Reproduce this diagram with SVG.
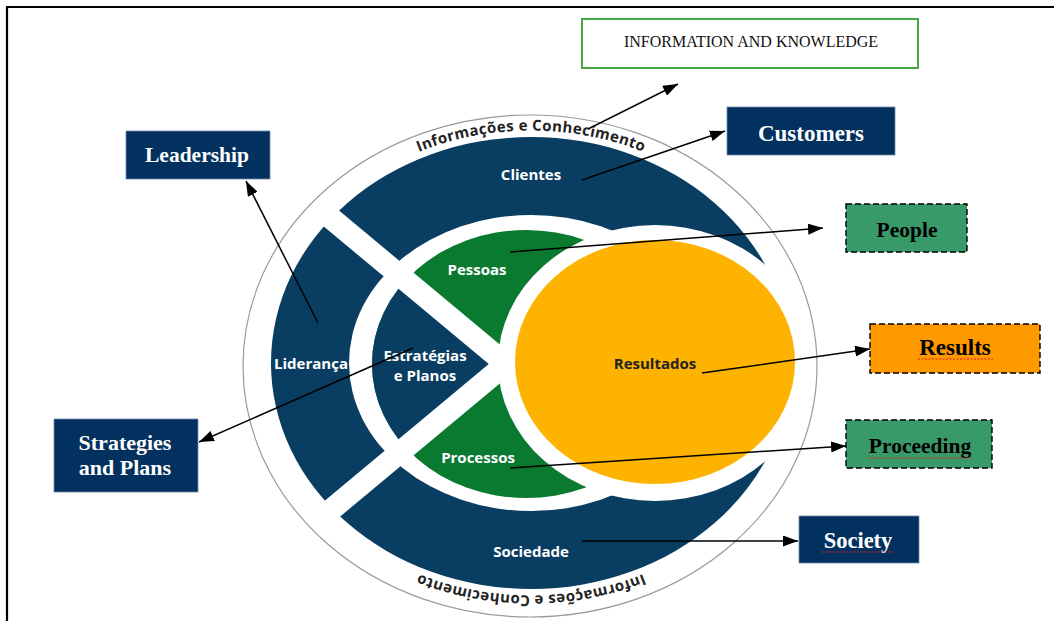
<svg xmlns="http://www.w3.org/2000/svg" width="1054" height="621" viewBox="0 0 1054 621">
<defs>
<style>
.navy{fill:#02315f;stroke:#6f86a6;stroke-width:0.8}
.btxt{font-family:"Liberation Serif",serif;font-weight:bold;fill:#fff;text-anchor:middle}
.dtxt{font-family:"Liberation Serif",serif;font-weight:bold;fill:#000;text-anchor:middle}
.dash{stroke:#000;stroke-width:1.4;stroke-dasharray:6 3}
.seg{font-family:"Open Sans","DejaVu Sans",sans-serif;font-weight:bold;font-size:15px;fill:#fff;text-anchor:middle}
.arc{font-family:"Open Sans","DejaVu Sans",sans-serif;font-weight:bold;font-size:15px;letter-spacing:0.4px;fill:#222}
.conn{stroke:#000;stroke-width:1.5;fill:none;marker-end:url(#ah)}
.squig{stroke:#e02020;stroke-width:1.2;stroke-dasharray:2 1.5;fill:none}
</style>
<marker id="ah" markerWidth="15" markerHeight="11" refX="15" refY="5.5" orient="auto" markerUnits="userSpaceOnUse">
<path d="M0,0 L15,5.5 L0,11 Z" fill="#000"/>
</marker>
<clipPath id="disc"><ellipse cx="526" cy="364" rx="154" ry="134"/></clipPath>
<path id="topArc" d="M 279,283 A 268 231 0 0 1 783,283"/>
<path id="botArc" d="M 783,443 A 268 231 0 0 1 279,443"/>
</defs>
<rect width="1054" height="621" fill="#fff"/>
<path d="M7,621 L7,7 L1054,7" fill="none" stroke="#000" stroke-width="2.2"/>

<g id="model">
  <ellipse cx="531" cy="363" rx="260" ry="226" fill="#0a3d62"/>
  <ellipse cx="531" cy="363" rx="182" ry="148" fill="#fff"/>
  <ellipse cx="526" cy="364" rx="154" ry="134" fill="#0a7a30"/>
  <polygon points="489,364 280,170 280,558" fill="#0a3d62" clip-path="url(#disc)"/>
  <line x1="506" y1="364" x2="320" y2="209" stroke="#fff" stroke-width="22"/>
  <line x1="506" y1="364" x2="320" y2="519" stroke="#fff" stroke-width="22"/>
  <ellipse cx="655" cy="363" rx="157" ry="138" fill="#fff"/>
  <ellipse cx="655" cy="362" rx="140" ry="122" fill="#fdb300"/>
  <ellipse cx="530" cy="366" rx="287" ry="251" fill="none" stroke="#9a9a9a" stroke-width="1.2"/>
  <text class="arc"><textPath href="#topArc" startOffset="50%" text-anchor="middle">Informações e Conhecimento</textPath></text>
  <text class="arc"><textPath href="#botArc" startOffset="50%" text-anchor="middle">Informações e Conhecimento</textPath></text>
  <g id="seg-clientes"><text class="seg" x="531" y="180">Clientes</text></g>
  <g id="seg-lideranca"><text class="seg" x="311" y="369">Liderança</text></g>
  <g id="seg-estrategias"><text class="seg" x="425" y="361">Estratégias</text><text class="seg" x="425" y="381">e Planos</text></g>
  <g id="seg-pessoas"><text class="seg" x="477" y="275">Pessoas</text></g>
  <g id="seg-processos"><text class="seg" x="478" y="463">Processos</text></g>
  <g id="seg-sociedade"><text class="seg" x="531" y="557">Sociedade</text></g>
  <g id="seg-resultados"><text class="seg" x="655" y="369" style="fill:#222">Resultados</text></g>
</g>

<g id="node-info">
  <rect x="582" y="19" width="336" height="49" fill="#fff" stroke="#45a845" stroke-width="2"/>
  <text x="751" y="47" font-family="'Liberation Serif',serif" font-size="16" text-anchor="middle" fill="#111">INFORMATION AND KNOWLEDGE</text>
</g>
<g id="node-customers">
  <rect class="navy" x="727" y="107" width="168" height="48"/>
  <text class="btxt" x="811" y="141" font-size="23">Customers</text>
</g>
<g id="node-leadership">
  <rect class="navy" x="126" y="131" width="144" height="48"/>
  <text class="btxt" x="197" y="162" font-size="21.5">Leadership</text>
</g>
<g id="node-strategies">
  <rect class="navy" x="54" y="419" width="144" height="73"/>
  <text class="btxt" x="125" y="450" font-size="22">Strategies</text>
  <text class="btxt" x="125" y="475" font-size="22">and Plans</text>
</g>
<g id="node-people">
  <rect class="dash" x="846" y="204" width="121" height="48" fill="#379a68"/>
  <text class="dtxt" x="907" y="237" font-size="21.5">People</text>
</g>
<g id="node-results">
  <rect class="dash" x="870" y="324" width="170" height="49" fill="#ff9900"/>
  <text class="dtxt" x="955" y="355" font-size="23">Results</text>
  <line class="squig" x1="918" y1="359" x2="993" y2="359"/>
</g>
<g id="node-proceeding">
  <rect class="dash" x="846" y="420" width="146" height="48" fill="#379a68"/>
  <text class="dtxt" x="920" y="453" font-size="21.5">Proceeding</text>
  <line class="squig" x1="868" y1="458" x2="973" y2="458"/>
</g>
<g id="node-society">
  <rect class="navy" x="799" y="516" width="120" height="47"/>
  <text class="btxt" x="858" y="548" font-size="22.5">Society</text>
  <line class="squig" x1="822" y1="552" x2="893" y2="552"/>
</g>

<g id="connectors">
  <line class="conn" x1="588" y1="129" x2="678" y2="84"/>
  <line class="conn" x1="582" y1="180" x2="725" y2="131"/>
  <line class="conn" x1="318" y1="323" x2="246" y2="181"/>
  <line class="conn" x1="413" y1="348" x2="199" y2="442"/>
  <line class="conn" x1="510" y1="252" x2="823" y2="228"/>
  <line class="conn" x1="702" y1="373" x2="870" y2="349"/>
  <line class="conn" x1="510" y1="468" x2="846" y2="446"/>
  <line class="conn" x1="582" y1="541" x2="798" y2="541"/>
</g>
</svg>
